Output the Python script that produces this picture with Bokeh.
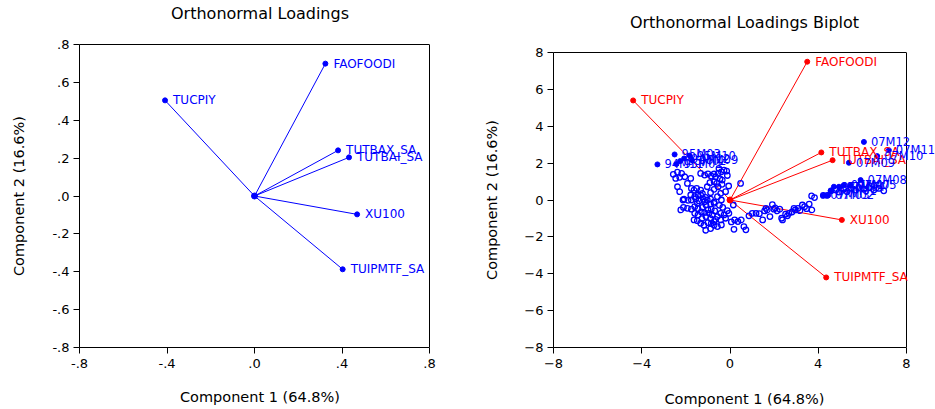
from bokeh.plotting import figure
from bokeh.layouts import row
from bokeh.models import (ColumnDataSource, FixedTicker, CustomJSTickFormatter, Range1d,
                          LabelSet, LinearAxis, Span)
from bokeh.core.properties import value
from bokeh.embed import file_html
from bokeh.resources import INLINE

# ---------------- data ----------------
variables = ["FAOFOODI", "TUCPIY", "TUTBAX_SA", "TUTBAI_SA", "XU100", "TUIPMTF_SA"]
# orthonormal loadings (left panel)
load_c1 = [0.324, -0.409, 0.382, 0.432, 0.469, 0.403]
load_c2 = [0.699, 0.505, 0.241, 0.204, -0.097, -0.387]
# loadings as drawn on the biplot (right panel)
bip_c1 = [3.50, -4.39, 4.14, 4.65, 5.07, 4.36]
bip_c2 = [7.50, 5.40, 2.58, 2.16, -1.08, -4.20]

# observation scores (unlabelled)
score_c1 = [-2.57, -2.38, -2.19, -2.05, -2.46, -2.28, -1.78, -1.33, -1.15, -1.00, -0.85, -0.72,
            -0.54, -0.39, -0.27, -0.15, -0.12, -0.45, -0.72, -0.91, -0.60, -0.36, -0.06, -0.20,
            0.48, -2.38, -2.28, -1.75, -1.51, -1.33, -1.25, -0.88, -0.72, -0.54, -1.78, -1.60,
            -1.45, -2.08, -1.90, -1.75, -1.55, -1.40, -1.21, -1.03, -0.88, -0.72, -0.39, -2.11,
            -1.93, -1.75, -1.60, -1.45, -1.25, -1.09, -0.88, -0.72, -0.48, -0.33, -1.60, -1.45,
            -1.30, -1.15, -1.00, -0.85, -0.69, -0.42, -0.12, 0.15, -1.63, -1.48, -1.27, -1.09,
            -0.88, -0.72, -0.57, -0.42, -0.20, 0.06, 0.21, 0.36, 0.51, 0.63, 0.72, 0.18,
            -0.88, -1.10, -0.57, -0.39, -0.72, -1.33, -1.18, -1.00, -0.85, -2.23, -2.13, -1.15,
            -0.95, -0.80, -0.65, -0.27, -0.05, -1.48, -1.33, -1.10, -0.57, -0.42, -0.65, -0.50,
            -0.35, -1.93, -1.63, -1.03,
            0.86, 1.01, 1.18, 1.33, 1.48, 1.57, 1.69, 1.81, 1.92, 2.05, 2.14, 2.26, 2.34, 2.38,
            2.60, 2.67, 2.81, 2.96, 3.08, 3.17, 3.28, 3.38, 3.47, 3.59, 3.71, 3.70, 3.83, 1.63,
            1.99, 2.90, 2.52,
            4.23, 4.41, 4.59, 4.80, 4.94, 5.16, 5.31, 5.49, 5.69, 5.84, 6.07, 6.29, 6.52, 6.75, 6.97]
score_c2 = [1.39, 1.51, 1.44, 1.26, 1.17, 1.23, 1.17, 1.44, 1.35, 1.42, 1.30, 1.41,
            1.44, 1.53, 1.62, 1.57, 1.33, 1.15, 0.99, 0.94, 0.90, 0.85, 0.76, 0.45,
            0.90, 0.72, 0.45, 0.63, 0.63, 0.54, 0.36, 0.40, 0.58, 0.72, 0.27, 0.18,
            0.27, 0.04, -0.02, 0.00, 0.07, -0.05, 0.04, 0.00, 0.05, -0.11, 0.00, -0.40,
            -0.45, -0.50, -0.36, -0.47, -0.40, -0.27, -0.22, -0.18, -0.29, -0.40, -0.72, -0.81,
            -0.65, -0.68, -0.54, -0.50, -0.59, -0.72, -0.58, -0.27, -1.08, -1.12, -1.01, -0.90,
            -1.01, -1.17, -0.90, -1.08, -0.99, -1.19, -1.08, -1.17, -1.08, -1.44, -1.62, -1.59,
            -1.55, -1.64, -1.44, -1.35, -1.37, -1.26, -1.37, -1.23, -1.28, -0.54, 0.00, -0.09,
            -0.72, -0.81, -1.05, -0.81, -0.72, -0.18, 0.27, 0.14, 0.18, 0.36, 1.26, 1.71,
            1.08, 0.90, 0.54, 0.72,
            -0.86, -0.72, -0.72, -0.74, -1.08, -0.59, -0.54, -0.90, -0.25, -0.43, -0.59, -0.50, -0.99, -1.08,
            -0.86, -0.72, -0.65, -0.54, -0.45, -0.58, -0.27, -0.36, -0.47, -0.22, -0.54, 0.22, 0.13, -0.45,
            -0.50, -0.45, -0.77,
            0.25, 0.25, 0.50, 0.54, 0.43, 0.58, 0.45, 0.63, 0.54, 0.68, 0.58, 0.68, 0.54, 0.63, 0.50]

# labelled observations
obs_labels = ["95M03", "94M11", "95M02", "94M12", "95M10", "95M01", "95M09",
              "07M12", "07M11", "07M10", "07M09", "07M08", "07M07", "07M06", "07M05",
              "07M04", "07M03", "07M02", "07M01"]
obs_c1 = [-2.51, -3.29, -2.26, -2.08, -1.83, -2.43, -1.72,
          6.07, 7.20, 6.67, 5.39, 5.92, 5.16, 4.71, 5.46, 4.94, 4.23, 4.44, 4.56]
obs_c2 = [2.47, 1.93, 2.11, 2.25, 2.41, 1.95, 2.16,
          3.15, 2.70, 2.38, 2.02, 1.08, 0.81, 0.72, 0.79, 0.72, 0.25, 0.25, 0.50]

left_lim = 0.8
right_lim = 8
left_ticks_x = [-0.8, -0.4, 0.0, 0.4, 0.8]
left_ticks_y = [-0.8, -0.6, -0.4, -0.2, 0.0, 0.2, 0.4, 0.6, 0.8]
right_ticks_x = [-8, -4, 0, 4, 8]
right_ticks_y = [-8, -6, -4, -2, 0, 2, 4, 6, 8]

left_title = "Orthonormal Loadings"
right_title = "Orthonormal Loadings Biplot"
x_title = "Component 1 (64.8%)"
y_title = "Component 2 (16.6%)"

FONT = "DejaVu Sans"
BLUE = "#0000FF"
RED = "#FF0000"


def make_panel(width, lim, box_w, extra_w, borders, xt, yt, title, title_standoff,
               xlab_standoff, ylab_standoff):
    # the plotting frame is widened by extra_w px on the right (to leave room for labels
    # that run past the box); the box itself spans [-lim, lim]
    x_end = -lim + 2 * lim * (box_w + extra_w) / box_w
    left, right, top, bottom = borders
    p = figure(width=width, height=409, output_backend="svg", toolbar_location=None,
               x_range=Range1d(-lim, x_end), y_range=Range1d(-lim, lim),
               min_border_left=left, min_border_right=right,
               min_border_top=top, min_border_bottom=bottom)
    p.frame_align = False
    p.outline_line_color = None
    p.xgrid.visible = False
    p.ygrid.visible = False
    p.background_fill_color = "white"
    p.border_fill_color = "white"
    xax = p.below[0]
    yax = p.left[0]
    for ax in (xax, yax):
        ax.axis_line_color = "black"
        ax.major_tick_line_color = "black"
        ax.minor_tick_line_color = None
        ax.major_tick_in = 0
        ax.major_tick_out = 6
        ax.major_label_text_font = FONT
        ax.major_label_text_font_size = "13px"
        ax.major_label_text_color = "black"
        ax.axis_label_text_font = FONT
        ax.axis_label_text_font_size = "14.5px"
        ax.axis_label_text_font_style = "normal"
        ax.axis_label_text_color = "black"
    xax.bounds = (-lim, lim)
    xax.ticker = FixedTicker(ticks=xt)
    yax.ticker = FixedTicker(ticks=yt)
    xax.major_label_standoff = 5
    yax.major_label_standoff = 4
    xax.axis_label = x_title
    yax.axis_label = y_title
    xax.axis_label_standoff = xlab_standoff
    yax.axis_label_standoff = ylab_standoff
    # title drawn as the label of a top axis whose line is the top edge of the box
    top_ax = LinearAxis(axis_label=title, bounds=(-lim, lim), ticker=FixedTicker(ticks=[]),
                        axis_line_color="black", major_tick_line_color=None,
                        minor_tick_line_color=None, major_tick_out=0, major_tick_in=0,
                        major_label_text_font_size="0px",
                        axis_label_text_font=FONT, axis_label_text_font_size="16px",
                        axis_label_text_font_style="normal", axis_label_text_color="black",
                        axis_label_standoff=title_standoff)
    p.add_layout(top_ax, "above")
    p.add_layout(Span(location=lim, dimension="height", line_color="black", line_width=1))
    return p, xax, yax


# ---------------- left panel ----------------
p1, p1x, p1y = make_panel(470, left_lim, 350, 11, (79, 30, 44, 62), left_ticks_x, left_ticks_y,
                          left_title, 22, 18, 22)
fmt_code = r"return tick.toFixed(1).replace(/^(-?)0\./, '$1.');"
p1x.formatter = CustomJSTickFormatter(code=fmt_code)
p1y.formatter = CustomJSTickFormatter(code=fmt_code)

left_src = ColumnDataSource(dict(x=load_c1, y=load_c2, label=variables))
p1.segment(x0=0, y0=0, x1="x", y1="y", source=left_src, line_color=BLUE, line_width=1)
p1.scatter(x=[0], y=[0], size=6, marker="circle", fill_color=BLUE, line_color=BLUE)
p1.scatter(x="x", y="y", source=left_src, size=5, marker="circle", fill_color=BLUE, line_color=BLUE)
p1.add_layout(LabelSet(x="x", y="y", text="label", source=left_src, x_offset=8,
                       text_baseline="middle", text_font=value(FONT), text_font_size="12px",
                       text_color=BLUE))

# ---------------- right panel ----------------
p2, p2x, p2y = make_panel(465, right_lim, 353, 29, (83, 0, 52, 61), right_ticks_x, right_ticks_y,
                          right_title, 21, 20, 21)

bip_src = ColumnDataSource(dict(x=bip_c1, y=bip_c2, label=variables))
score_src = ColumnDataSource(dict(x=score_c1, y=score_c2))
obs_src = ColumnDataSource(dict(x=obs_c1, y=obs_c2, label=obs_labels))

p2.segment(x0=0, y0=0, x1="x", y1="y", source=bip_src, line_color=RED, line_width=1)
p2.scatter(x="x", y="y", source=score_src, size=5.5, marker="circle", fill_color=None,
           line_color=BLUE, line_width=1.3)
p2.scatter(x="x", y="y", source=obs_src, size=5, marker="circle", fill_color=BLUE, line_color=BLUE)
p2.scatter(x=[0], y=[0], size=6, marker="circle", fill_color=RED, line_color=RED)
p2.scatter(x="x", y="y", source=bip_src, size=5, marker="circle", fill_color=RED, line_color=RED)
p2.add_layout(LabelSet(x="x", y="y", text="label", source=bip_src, x_offset=8,
                       text_baseline="middle", text_font=value(FONT), text_font_size="12px",
                       text_color=RED))
p2.add_layout(LabelSet(x="x", y="y", text="label", source=obs_src, x_offset=7,
                       text_baseline="middle", text_font=value(FONT), text_font_size="11.5px",
                       text_color=BLUE))

layout = row(p1, p2)
open("out.html", "w").write(file_html(layout, INLINE))
